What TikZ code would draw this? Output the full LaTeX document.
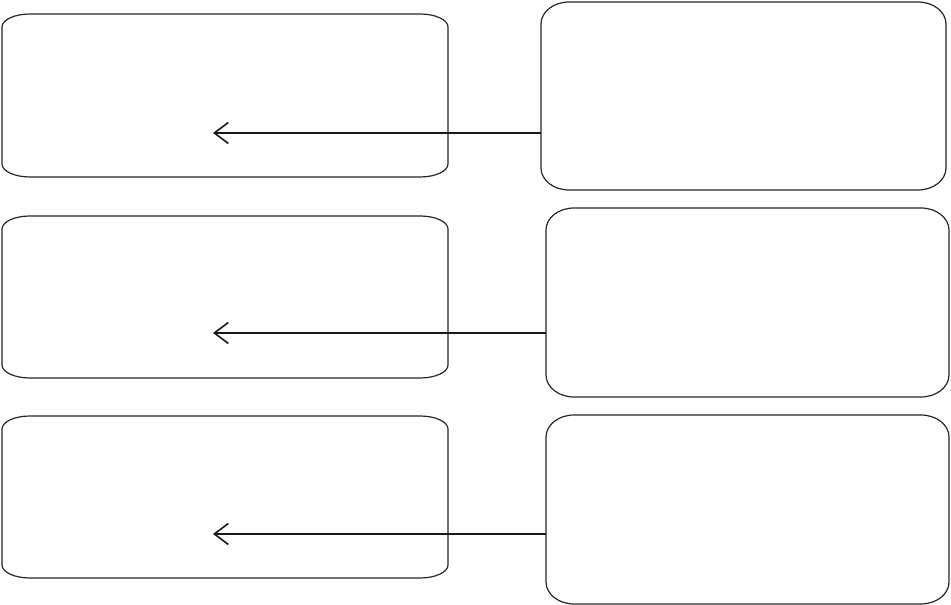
\documentclass[tikz,border=0pt]{standalone}
\usetikzlibrary{arrows.meta}
\tikzset{
  boxline/.style={line width=1.2pt, draw=black!85},
  boxnode/.style={inner sep=0pt, outer sep=0pt, draw=none},
  arrthick/.style={line width=1.9pt, draw=black!90, -{Straight Barb[length=14pt,width=21pt,line width=1.6pt]}},
  arrthin/.style={line width=1.2pt, draw=black!90, -{Straight Barb[length=14pt,width=21pt,line width=1.6pt]}}
}
\newcommand\ebox[6]{%
  \node[boxnode, minimum width={(#4-#2)*1pt}, minimum height={(#5-#3)*1pt}] (#1) at ({(#2+#4)/2},{(#3+#5)/2}) {};
  \draw[boxline] ({#2+28},#5) -- ({#4-28},#5)
    arc[start angle=90,end angle=0,x radius=28,y radius=#6] -- (#4,{#3+#6})
    arc[start angle=0,end angle=-90,x radius=28,y radius=#6] -- ({#2+28},#3)
    arc[start angle=-90,end angle=-180,x radius=28,y radius=#6] -- (#2,{#5-#6})
    arc[start angle=180,end angle=90,x radius=28,y radius=#6] -- cycle;
}
\begin{document}
\begin{tikzpicture}[x=1pt,y=1pt]
\useasboundingbox (0,0) rectangle (951,605);
\ebox{L1}{2}{428}{448}{591}{13}
\ebox{L2}{2}{227}{448}{389}{13}
\ebox{L3}{2}{27}{448}{189}{13}
\ebox{R1}{541}{415}{946}{603}{22}
\ebox{R2}{546}{208}{949}{397}{22}
\ebox{R3}{546}{1}{949}{190}{22}
\coordinate (t1) at (213,472);
\coordinate (t2) at (213,272);
\coordinate (t3) at (213,71);
\draw[arrthick] (t1 -| R1.west) -- (t1);
\draw[arrthick] (t2 -| R2.west) -- (t2);
\draw[arrthin] (t3 -| R3.west) -- (t3);
\end{tikzpicture}
\end{document}
